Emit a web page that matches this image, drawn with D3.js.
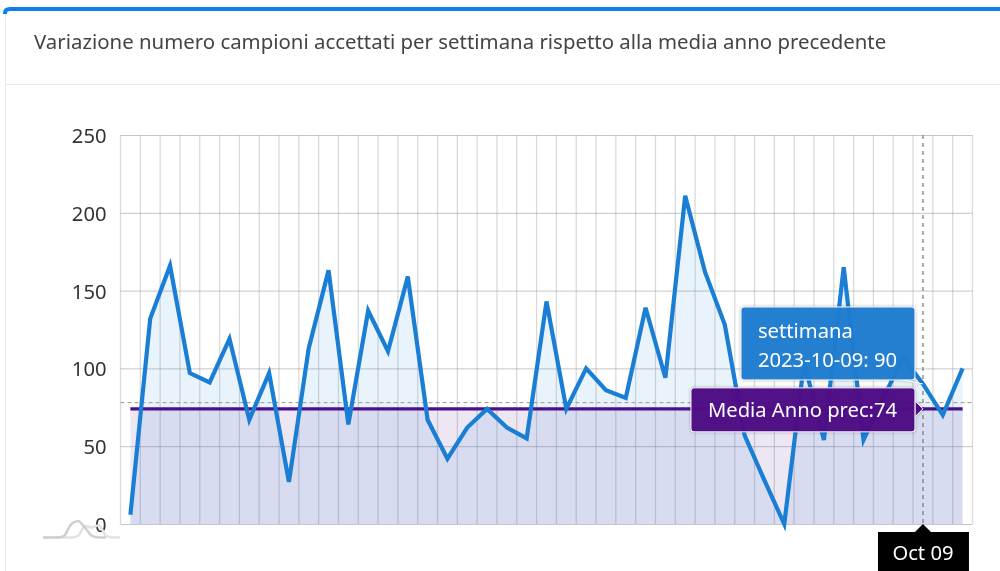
<!DOCTYPE html>
<html lang="en">
<head>
    <meta charset="UTF-8">
    <title>Variazione campioni</title>
    <script src="https://d3js.org/d3.v7.min.js"></script>
    <style>
        html, body { margin: 0; padding: 0; background: #fff; overflow: hidden; }
        svg { display: block; font-family: "Noto Sans", sans-serif; filter: blur(0.4px); }
        .tip { filter: drop-shadow(0 0 1.5px rgba(0, 0, 0, 0.3)); }
    </style>
</head>
<body>
    <div id="chart"></div>
    <script>
        const title = "Variazione numero campioni accettati per settimana rispetto alla media anno precedente";
        const weeks = [
            "2023-01-02", "2023-01-09", "2023-01-16", "2023-01-23", "2023-01-30", "2023-02-06", "2023-02-13", "2023-02-20",
            "2023-02-27", "2023-03-06", "2023-03-13", "2023-03-20", "2023-03-27", "2023-04-03", "2023-04-10", "2023-04-17",
            "2023-04-24", "2023-05-01", "2023-05-08", "2023-05-15", "2023-05-22", "2023-05-29", "2023-06-05", "2023-06-12",
            "2023-06-19", "2023-06-26", "2023-07-03", "2023-07-10", "2023-07-17", "2023-07-24", "2023-07-31", "2023-08-07",
            "2023-08-14", "2023-08-21", "2023-08-28", "2023-09-04", "2023-09-11", "2023-09-18", "2023-09-25", "2023-10-02",
            "2023-10-09", "2023-10-16", "2023-10-23"
        ];
        const samples = [
            6, 132, 166, 97, 91, 119, 67, 97, 27, 113, 163, 64, 137, 111, 159, 67,
            42, 62, 74, 62, 55, 143, 74, 100, 86, 81, 139, 94, 211, 162, 128, 57,
            28, 0, 104, 54, 165, 54, 81, 107, 90, 70, 100
        ];
        const prevYearMean = 74;
        const yTicks = [0, 50, 100, 150, 200, 250];
        const hoverWeek = "2023-10-09";
        const hoverLabel = "Oct 09";
        const cursorValue = 78;

        const width = 1000, height = 571;
        const plot = {left: 120.5, right: 972.5, top: 135, bottom: 524};
        const fontSize = "20.2px";

        const svg = d3.select("#chart").append("svg")
            .attr("width", width)
            .attr("height", height);

        // Card
        svg.append("rect")
            .attr("x", 5.5).attr("y", 9)
            .attr("width", 1040).attr("height", 620)
            .attr("rx", 5)
            .attr("fill", "#fff")
            .attr("stroke", "#ebebeb");
        svg.append("path")
            .attr("d", "M5,14 V13 Q5,9 10,9 H1000")
            .attr("fill", "none")
            .attr("stroke", "#0f7fee")
            .attr("stroke-width", 4);
        svg.append("line")
            .attr("x1", 6).attr("x2", width)
            .attr("y1", 84.5).attr("y2", 84.5)
            .attr("stroke", "#e8e8e8");
        svg.append("text")
            .attr("x", 34).attr("y", 49)
            .attr("fill", "#444")
            .style("font-size", "20.4px")
            .text(title);

        const x = d3.scaleBand().domain(weeks).range([plot.left, plot.right]);
        const y = d3.scaleLinear().domain([0, 250]).range([plot.bottom, plot.top]);
        const cx = d => x(d) + x.bandwidth() / 2;

        // Grid: vertical lines sit on the band edges
        const edges = weeks.map(d => x(d)).concat(plot.right);
        svg.append("g").selectAll("line").data(edges).enter().append("line")
            .attr("x1", d => d).attr("x2", d => d)
            .attr("y1", plot.top).attr("y2", plot.bottom)
            .attr("stroke", "#a8a8a8")
            .attr("stroke-opacity", 0.42)
            .attr("stroke-width", 1.3);

        const yAxis = svg.append("g")
            .attr("transform", `translate(${plot.left},0)`)
            .call(d3.axisLeft(y).tickValues(yTicks).tickSize(-(plot.right - plot.left)).tickPadding(14));
        yAxis.select(".domain").remove();
        yAxis.selectAll("line").attr("stroke", "#a0a0a0").attr("stroke-opacity", 0.6);
        yAxis.selectAll("text")
            .attr("fill", "#333")
            .attr("dy", "0.37em")
            .style("font-family", '"Noto Sans", sans-serif')
            .style("font-size", fontSize);

        // Areas
        const blueArea = d3.area()
            .x((d, i) => cx(weeks[i]))
            .y0(y(0))
            .y1(d => y(d));
        svg.append("path")
            .datum(samples)
            .attr("d", blueArea)
            .attr("fill", "#1e88e5")
            .attr("fill-opacity", 0.1);
        svg.append("path")
            .datum(weeks.map(() => prevYearMean))
            .attr("d", blueArea)
            .attr("fill", "#4a148c")
            .attr("fill-opacity", 0.1);

        // Cursor
        svg.append("line")
            .attr("x1", plot.left).attr("x2", plot.right)
            .attr("y1", y(cursorValue)).attr("y2", y(cursorValue))
            .attr("stroke", "#999")
            .attr("stroke-dasharray", "4 3");
        svg.append("line")
            .attr("x1", cx(hoverWeek)).attr("x2", cx(hoverWeek))
            .attr("y1", plot.top).attr("y2", plot.bottom)
            .attr("stroke", "#777")
            .attr("stroke-width", 1.2)
            .attr("stroke-dasharray", "4 4");

        // Lines
        const line = d3.line()
            .x((d, i) => cx(weeks[i]))
            .y(d => y(d));
        svg.append("path")
            .datum(weeks.map(() => prevYearMean))
            .attr("d", line)
            .attr("fill", "none")
            .attr("stroke", "#4a0f8c")
            .attr("stroke-width", 3.2);
        svg.append("path")
            .datum(samples)
            .attr("d", line)
            .attr("fill", "none")
            .attr("stroke", "#1a7ed4")
            .attr("stroke-width", 4.2);

        // Faint logo-like squiggle under the axis
        const bumpScaleX = d3.scaleLinear().domain([0, 11]).range([43, 120]);
        const bumpScaleY = d3.scaleLinear().domain([0, 1]).range([537.5, 521]);
        const bumpLine = d3.line().x((d, i) => bumpScaleX(i)).y(d => bumpScaleY(d)).curve(d3.curveMonotoneX);
        const bumpA = [0, 0, 0, 0.1, 0.8, 1, 0.6, 0.1, 0, 0];
        const bumpB = [0, 0, 0, 0, 0, 0.1, 0.7, 0.6, 0.75, 0.1, 0, 0];
        svg.append("path").attr("d", bumpLine(bumpB))
            .attr("fill", "none").attr("stroke", "#e2e2e2").attr("stroke-width", 2.5);
        svg.append("path").attr("d", bumpLine(bumpA))
            .attr("fill", "none").attr("stroke", "#cfcfcf").attr("stroke-width", 2.5);

        // Tooltips hang off the hovered point
        const tipX = cx(hoverWeek);
        const hoverValue = samples[weeks.indexOf(hoverWeek)];

        const blueTip = svg.append("g").attr("class", "tip");
        blueTip.append("path")
            .attr("d", `M${tipX - 26},${y(hoverValue) - 5} L${tipX},${y(hoverValue)}`)
            .attr("fill", "none")
            .attr("stroke", "#fff");
        blueTip.append("rect")
            .attr("x", tipX - 182).attr("y", y(hoverValue) - 77)
            .attr("width", 174).attr("height", 73)
            .attr("rx", 3)
            .attr("fill", "#1e7dd2")
            .attr("fill-opacity", 0.96)
            .attr("stroke", "#fff");
        blueTip.append("text")
            .attr("x", tipX - 165).attr("y", y(hoverValue) - 46)
            .attr("fill", "#fff")
            .style("font-size", fontSize)
            .text("settimana");
        blueTip.append("text")
            .attr("x", tipX - 165).attr("y", y(hoverValue) - 17)
            .attr("fill", "#fff")
            .style("font-size", fontSize)
            .text(`${hoverWeek}: ${hoverValue}`);

        const purpleTip = svg.append("g").attr("class", "tip");
        purpleTip.append("path")
            .attr("d", `M${tipX - 8},${y(prevYearMean) - 8} L${tipX},${y(prevYearMean)} L${tipX - 8},${y(prevYearMean) + 8} Z`)
            .attr("fill", "#4f0d86")
            .attr("stroke", "#fff");
        purpleTip.append("rect")
            .attr("x", tipX - 232).attr("y", y(prevYearMean) - 21)
            .attr("width", 224).attr("height", 44)
            .attr("rx", 3)
            .attr("fill", "#4f0d86")
            .attr("fill-opacity", 0.98)
            .attr("stroke", "#fff");
        purpleTip.append("text")
            .attr("x", tipX - 215).attr("y", y(prevYearMean) + 8)
            .attr("fill", "#fff")
            .style("font-size", fontSize)
            .text(`Media Anno prec:${prevYearMean}`);

        // Crosshair label under the axis
        const axisTip = svg.append("g");
        axisTip.append("path")
            .attr("d", `M${tipX},${plot.bottom} L${tipX + 8},${plot.bottom + 8} H${tipX + 46} V${height + 5} H${tipX - 45} V${plot.bottom + 8} H${tipX - 8} Z`)
            .attr("fill", "#000");
        axisTip.append("text")
            .attr("x", tipX).attr("y", 560)
            .attr("text-anchor", "middle")
            .attr("fill", "#fff")
            .style("font-size", fontSize)
            .text(hoverLabel);
    </script>
</body>
</html>
